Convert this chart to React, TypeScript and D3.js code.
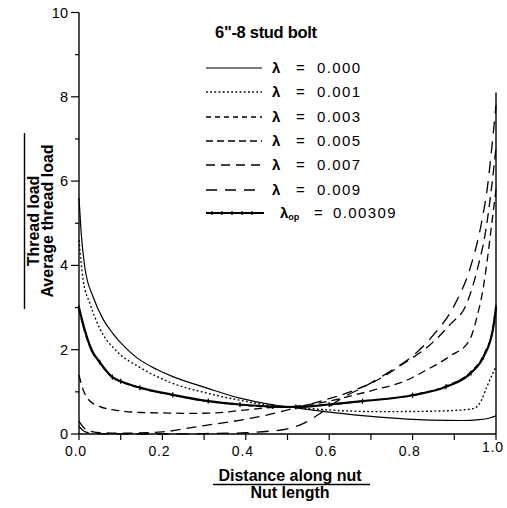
import React from "react";
import * as d3 from "d3";

// ---- axis ticks ----
const xMajorTicks = [0, 0.2, 0.4, 0.6, 0.8, 1.0];
const xMinorTicks = [0.1, 0.3, 0.5, 0.7, 0.9];
const yMajorTicks = [0, 2, 4, 6, 8, 10];
const yMinorTicks = [1, 3, 5, 7, 9];

const l000X = [0, 0.005, 0.014, 0.034, 0.058, 0.08, 0.11, 0.14, 0.187, 0.225, 0.307, 0.386, 0.465, 0.52, 0.6, 0.72, 0.84, 0.92, 0.96, 0.985, 1.0];
const l000Y = [5.6, 4.8, 3.95, 3.25, 2.72, 2.4, 2.06, 1.8, 1.53, 1.36, 1.09, 0.85, 0.69, 0.62, 0.52, 0.4, 0.33, 0.32, 0.34, 0.38, 0.43];

const l001X = [0, 0.01, 0.026, 0.05, 0.09, 0.146, 0.225, 0.307, 0.386, 0.465, 0.52, 0.6, 0.72, 0.84, 0.93, 0.95, 0.965, 0.978, 0.993, 1.0];
const l001Y = [4.6, 3.65, 3.1, 2.5, 1.97, 1.58, 1.2, 0.97, 0.8, 0.67, 0.63, 0.57, 0.53, 0.54, 0.58, 0.62, 0.8, 1.12, 1.45, 1.6];

const l003X = [0, 0.01, 0.03, 0.05, 0.08, 0.1, 0.146, 0.225, 0.31, 0.386, 0.465, 0.52, 0.6, 0.68, 0.8, 0.88, 0.94, 0.97, 0.993, 1.0];
const l003Y = [2.95, 2.55, 1.98, 1.68, 1.34, 1.24, 1.09, 0.92, 0.77, 0.69, 0.64, 0.64, 0.7, 0.78, 0.93, 1.14, 1.48, 1.87, 2.55, 3.05];

const l005X = [0, 0.01, 0.02, 0.05, 0.1, 0.15, 0.2, 0.27, 0.33, 0.38, 0.45, 0.52, 0.6, 0.65, 0.71, 0.78, 0.83, 0.89, 0.935, 0.955, 0.97, 0.98, 0.99, 1.0];
const l005Y = [1.4, 1.05, 0.85, 0.65, 0.55, 0.51, 0.5, 0.49, 0.5, 0.55, 0.62, 0.66, 0.78, 0.9, 1.05, 1.25, 1.5, 1.85, 2.2, 2.8, 3.5, 4.2, 5.0, 5.8];

const l007X = [0, 0.015, 0.04, 0.1, 0.2, 0.25, 0.3, 0.37, 0.45, 0.52, 0.58, 0.65, 0.73, 0.77, 0.84, 0.89, 0.93, 0.955, 0.975, 0.99, 1.0];
const l007Y = [0.3, 0.12, 0.04, 0.02, 0.05, 0.12, 0.2, 0.3, 0.45, 0.62, 0.78, 1.0, 1.36, 1.62, 2.1, 2.6, 3.1, 3.9, 4.8, 5.9, 6.8];

const l009X = [0, 0.015, 0.04, 0.1, 0.2, 0.3, 0.4, 0.46, 0.5, 0.54, 0.58, 0.63, 0.68, 0.74, 0.8, 0.85, 0.9, 0.94, 0.965, 0.98, 0.99, 1.0];
const l009Y = [0.18, 0.05, 0.01, 0.0, 0.0, 0.01, 0.03, 0.07, 0.12, 0.26, 0.5, 0.85, 1.1, 1.45, 1.85, 2.35, 3.05, 4.0, 5.0, 5.9, 6.8, 7.8];

const lopX = [0, 0.01, 0.03, 0.05, 0.08, 0.1, 0.146, 0.225, 0.31, 0.386, 0.465, 0.52, 0.6, 0.68, 0.8, 0.88, 0.94, 0.97, 0.993, 1.0];
const lopY = [3.0, 2.6, 2.0, 1.7, 1.35, 1.25, 1.1, 0.93, 0.78, 0.7, 0.65, 0.64, 0.7, 0.78, 0.92, 1.12, 1.45, 1.83, 2.5, 3.0];

const legendValues = ["0.000", "0.001", "0.003", "0.005", "0.007", "0.009"];
const optValue = "0.00309";
const titleText = '6"-8 stud bolt';

const FONT = "'Liberation Sans', Arial, Helvetica, sans-serif";

const W = 507;
const H = 508;

const x = d3.scaleLinear().domain([0, 1]).range([79, 496]);
const y = d3.scaleLinear().domain([0, 10]).range([434, 12.5]);

type Series = { xs: number[]; ys: number[]; dash: string; width: number };

const series: Series[] = [
  { xs: l000X, ys: l000Y, dash: "none", width: 1.2 },
  { xs: l001X, ys: l001Y, dash: "1.8,2.4", width: 1.4 },
  { xs: l003X, ys: l003Y, dash: "5,4", width: 1.3 },
  { xs: l005X, ys: l005Y, dash: "8,5", width: 1.3 },
  { xs: l007X, ys: l007Y, dash: "10,6", width: 1.3 },
  { xs: l009X, ys: l009Y, dash: "12,8", width: 1.3 },
];

const legendDash = ["none", "1.8,2.4", "5,4", "7,4", "9,6", "11,8"];

const lineGen = d3
  .line<[number, number]>()
  .x((d) => x(d[0]))
  .y((d) => y(d[1]))
  .curve(d3.curveMonotoneX);

const pts = (xs: number[], ys: number[]) => xs.map((v, i) => [v, ys[i]] as [number, number]);

export default function App() {
  const legendRowsY = [68, 92, 117, 141, 165, 190];
  const optRowY = 213;
  return (
    <svg
      width={W}
      height={H}
      style={{ position: "absolute", left: 0, top: 0, background: "#fff", display: "block" }}
      fontFamily={FONT}
    >
      <rect x={0} y={0} width={W} height={H} fill="#fff" />
      {/* axes */}
      <line x1={x(0)} x2={x(0)} y1={y(0)} y2={y(10)} stroke="#000" strokeWidth={1.4} />
      <line x1={x(0)} x2={x(1)} y1={y(0)} y2={y(0)} stroke="#000" strokeWidth={1.4} />
      <line x1={x(1)} x2={x(1)} y1={y(0)} y2={y(8.1)} stroke="#000" strokeWidth={1.4} />

      {yMajorTicks.map((t) => (
        <g key={"ym" + t}>
          <line x1={x(0) - 8} x2={x(0)} y1={y(t)} y2={y(t)} stroke="#000" strokeWidth={1.2} />
          <text x={x(0) - 11} y={y(t) + 5} textAnchor="end" fontSize={14.5}>
            {t}
          </text>
        </g>
      ))}
      {yMinorTicks.map((t) => (
        <line key={"yn" + t} x1={x(0) - 4} x2={x(0)} y1={y(t)} y2={y(t)} stroke="#000" strokeWidth={1.2} />
      ))}
      {xMajorTicks.map((t) => (
        <g key={"xm" + t}>
          <line x1={x(t)} x2={x(t)} y1={y(0)} y2={y(0) + 6} stroke="#000" strokeWidth={1.2} />
          <text x={x(t) - 3} y={t === 1 ? 452 : 456} textAnchor="middle" fontSize={14} letterSpacing={0.8}>
            {t.toFixed(1)}
          </text>
        </g>
      ))}
      {xMinorTicks.map((t) => (
        <line key={"xn" + t} x1={x(t)} x2={x(t)} y1={y(0)} y2={y(0) + 6} stroke="#000" strokeWidth={1.2} />
      ))}

      {/* x label */}
      <text x={290} y={481} textAnchor="middle" fontSize={16} fontWeight="bold">
        Distance along nut
      </text>
      <line x1={213} x2={370} y1={484.5} y2={484.5} stroke="#000" strokeWidth={1.4} />
      <text x={290} y={498} textAnchor="middle" fontSize={16} fontWeight="bold">
        Nut length
      </text>

      {/* y label */}
      <g transform="translate(0,221) rotate(-90)">
        <text x={0} y={39} textAnchor="middle" fontSize={16} fontWeight="bold">
          Thread load
        </text>
        <line x1={-88} x2={88} y1={24.5} y2={24.5} stroke="#000" strokeWidth={1.4} />
        <text x={0} y={53} textAnchor="middle" fontSize={16} fontWeight="bold">
          Average thread load
        </text>
      </g>

      {/* curves */}
      <g fill="none" stroke="#000">
        {series.map((s, i) => (
          <path
            key={"s" + i}
            d={lineGen(pts(s.xs, s.ys)) || ""}
            strokeWidth={s.width}
            strokeDasharray={s.dash}
          />
        ))}
        <path d={lineGen(pts(lopX, lopY)) || ""} strokeWidth={2.2} />
        {lopX.map((v, i) => (
          <line key={"mk" + i} x1={x(v)} x2={x(v)} y1={y(lopY[i]) - 2.5} y2={y(lopY[i]) + 2.5} strokeWidth={1.3} />
        ))}
      </g>

      {/* legend */}
      <text x={215} y={38} fontSize={16.5} fontWeight="bold" letterSpacing={-0.3}>
        {titleText}
      </text>
      {series.map((s, i) => (
        <g key={"lg" + i}>
          <line
            x1={206}
            x2={262}
            y1={legendRowsY[i]}
            y2={legendRowsY[i]}
            stroke="#000"
            strokeWidth={s.width}
            strokeDasharray={legendDash[i]}
          />
          <text x={272} y={legendRowsY[i] + 5} fontSize={15} fontWeight="bold">
            λ
          </text>
          <text x={296} y={legendRowsY[i] + 5} fontSize={15}>
            =
          </text>
          <text x={317} y={legendRowsY[i] + 5} fontSize={15} letterSpacing={1.4}>
            {legendValues[i]}
          </text>
        </g>
      ))}
      <g>
        <line x1={206} x2={264} y1={optRowY} y2={optRowY} stroke="#000" strokeWidth={2} />
        {[212, 222, 232, 242, 252].map((px) => (
          <line key={"lm" + px} x1={px} x2={px} y1={optRowY - 2} y2={optRowY + 2} stroke="#000" strokeWidth={1.2} />
        ))}
        <text x={280} y={optRowY + 5} fontSize={15} fontWeight="bold">
          λ
          <tspan fontSize={9} dy={2}>
            op
          </tspan>
        </text>
        <text x={314} y={optRowY + 5} fontSize={15}>
          =
        </text>
        <text x={333} y={optRowY + 5} fontSize={15} letterSpacing={1.4}>
          {optValue}
        </text>
      </g>
    </svg>
  );
}
